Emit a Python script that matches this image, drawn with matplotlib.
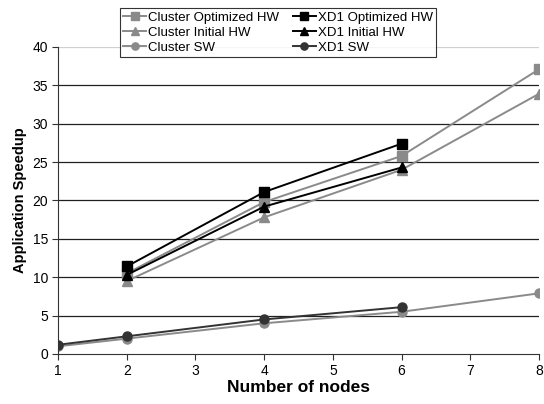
import matplotlib
matplotlib.use("Agg")
import matplotlib.pyplot as plt

plt.rcParams['font.family'] = ['Liberation Sans', 'DejaVu Sans']

nodes_cluster_hw = [2, 4, 6, 8]
nodes_xd1_hw = [2, 4, 6]
nodes_cluster_sw = [1, 2, 4, 6, 8]
nodes_xd1_sw = [1, 2, 4, 6]

cluster_opt_hw = [10.5, 19.8, 25.8, 37.1]
xd1_opt_hw = [11.4, 21.1, 27.4]
cluster_init_hw = [9.5, 17.8, 24.0, 33.9]
xd1_init_hw = [10.3, 19.2, 24.3]
cluster_sw = [1.0, 2.0, 4.0, 5.5, 7.9]
xd1_sw = [1.2, 2.3, 4.5, 6.1]

xticks = [1, 2, 3, 4, 5, 6, 7, 8]
yticks = [0, 5, 10, 15, 20, 25, 30, 35, 40]

GRAY = '#8a8a8a'
BLACK = '#000000'
DARK = '#333333'

fig = plt.figure(figsize=(5.44, 4.04), dpi=100)
ax = fig.add_axes([0.1066, 0.1238, 0.8842, 0.7599])

for y in yticks[1:-1]:
    ax.axhline(y, color='#202020', lw=0.9, zorder=0)
ax.axhline(40, color='#d0d0d0', lw=0.9, zorder=0)

kw = dict(lw=1.4, markersize=6.5)
h1, = ax.plot(nodes_cluster_hw, cluster_opt_hw, color=GRAY, marker='s', label='Cluster Optimized HW', **kw)
h2, = ax.plot(nodes_xd1_hw, xd1_opt_hw, color=BLACK, marker='s', label='XD1 Optimized HW', **kw)
h3, = ax.plot(nodes_cluster_hw, cluster_init_hw, color=GRAY, marker='^', label='Cluster Initial HW', **kw)
h4, = ax.plot(nodes_xd1_hw, xd1_init_hw, color=BLACK, marker='^', label='XD1 Initial HW', **kw)
h5, = ax.plot(nodes_cluster_sw, cluster_sw, color=GRAY, marker='o', label='Cluster SW', **kw)
h6, = ax.plot(nodes_xd1_sw, xd1_sw, color=DARK, marker='o', label='XD1 SW', **kw)

ax.set_xlim(1, 8)
ax.set_ylim(0, 40)
ax.set_xticks(xticks)
ax.set_yticks(yticks)
ax.tick_params(axis='both', labelsize=10, direction='out', length=4, width=0.8, color='#333333', pad=3)
for s in ['top', 'right']:
    ax.spines[s].set_visible(False)
for s in ['left', 'bottom']:
    ax.spines[s].set_color('#333333')
    ax.spines[s].set_linewidth(0.8)

ax.set_xlabel('Number of nodes', fontsize=12.5, fontweight='bold', labelpad=2)
ax.set_ylabel('Application Speedup', fontsize=10.5, fontweight='bold', labelpad=4)

leg = fig.legend(handles=[h1, h3, h5, h2, h4, h6], ncol=2, loc='upper left',
                 bbox_to_anchor=(120/544, 1 - 8/404), fontsize=9.5, frameon=True,
                 fancybox=False, edgecolor='black', handlelength=1.75, handletextpad=0.15,
                 columnspacing=1.0, labelspacing=0.22, borderpad=0.25, markerscale=0.8,
                 borderaxespad=0)
leg.get_frame().set_linewidth(0.8)

fig.savefig('out.png', dpi=100)
